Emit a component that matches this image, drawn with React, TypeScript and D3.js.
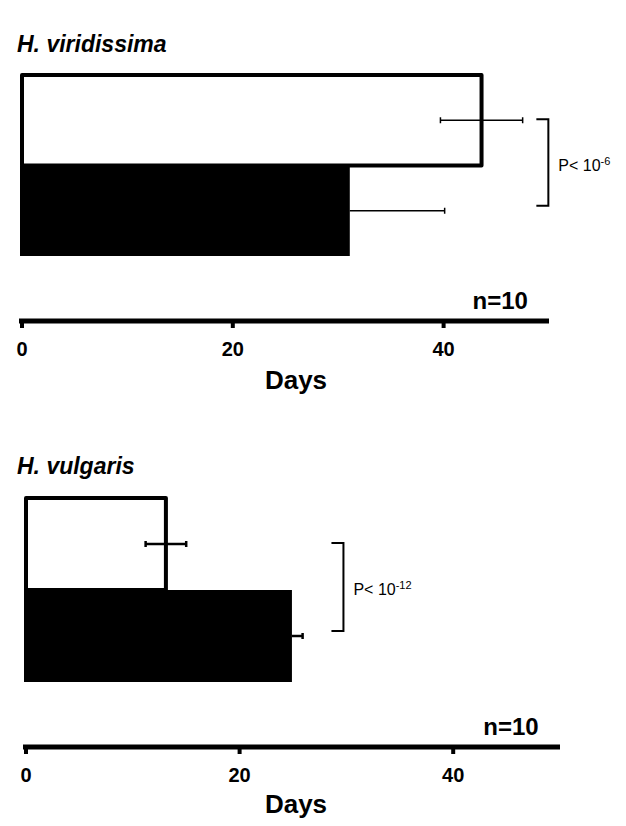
import React from 'react';
import * as d3 from 'd3';

// days to reach stage, mean and error, white = control, black = treated
const groups = ['white', 'black'];
const viridissimaMeans = [43.6, 31.1];
const viridissimaErrors = [3.9, 9.0];
const vulgarisMeans = [13.1, 24.9];
const vulgarisErrors = [1.9, 1.0];
const tickValues = [0, 20, 40];
const pValues = ['-6', '-12'];

const W = 626;
const H = 826;
const font = 'Arial, "Liberation Sans", sans-serif';
const narrow = '"Liberation Sans Narrow", "Arial Narrow", Arial, "Liberation Sans", sans-serif';

type PanelProps = {
  title: string;
  means: number[];
  errors: number[];
  pExp: string;
  x0: number;
  x1: number;
  barTop: number;
  barBottom: number;
  axisY: number;
  titleY: number;
  bracketDays: number;
  errStroke: number;
  daysY: number;
};

const Panel = (p: PanelProps) => {
  const x = d3.scaleLinear().domain([0, 50]).range([p.x0, p.x1]);
  const y = d3.scaleBand<string>().domain(groups).range([p.barTop, p.barBottom]).paddingInner(0);
  const bw = y.bandwidth();
  const yc = (g: string) => (y(g) as number) + bw / 2;

  const bx = x(p.bracketDays);
  const bTop = yc('white') - 1;
  const bBot = yc('black') - 5;

  return (
    <g>
      <text x={17} y={p.titleY} fontFamily={font} fontWeight="bold" fontStyle="italic" fontSize={23}>
        {p.title}
      </text>

      {/* black bar first, white outlined bar on top */}
      <rect x={x(0) - 2} y={y('black')} width={x(p.means[1]) - x(0) + 2} height={bw} fill="#000" />
      <rect
        x={x(0)}
        y={y('white')}
        width={x(p.means[0]) - x(0)}
        height={bw}
        fill="#fff"
        stroke="#000"
        strokeWidth={4}
        strokeLinejoin="round"
      />

      {groups.map((g, i) => {
        const lo = g === 'white' ? x(p.means[i] - p.errors[i]) : x(p.means[i]);
        const hi = x(p.means[i] + p.errors[i]);
        const cy = yc(g);
        return (
          <g key={g} stroke="#000" strokeWidth={p.errStroke}>
            <line x1={lo} x2={hi} y1={cy} y2={cy} />
            {g === 'white' && <line x1={lo} x2={lo} y1={cy - 3} y2={cy + 3} />}
            <line x1={hi} x2={hi} y1={cy - 3} y2={cy + 3} />
          </g>
        );
      })}

      <path
        d={`M${bx},${bTop}H${bx + 12}V${bBot}H${bx}`}
        fill="none"
        stroke="#000"
        strokeWidth={2}
      />
      <text x={bx + 22} y={(bTop + bBot) / 2 + 8} fontFamily={font} fontSize={16}>
        P{'< 10'}
        <tspan fontSize={11} dy={-6}>{p.pExp}</tspan>
      </text>

      <text x={x(48)} y={p.axisY - 12} textAnchor="end" fontFamily={narrow} fontWeight="bold" fontSize={24}>
        n=10
      </text>
      <line x1={x(0) - 3} x2={x(50)} y1={p.axisY} y2={p.axisY} stroke="#000" strokeWidth={5} />
      {tickValues.map(t => (
        <g key={t}>
          <line x1={x(t)} x2={x(t)} y1={p.axisY} y2={p.axisY + 7} stroke="#000" strokeWidth={4} />
          <text x={x(t)} y={p.axisY + 35} textAnchor="middle" fontFamily={narrow} fontWeight="bold" fontSize={20}>
            {t}
          </text>
        </g>
      ))}
      <text x={296} y={p.daysY} textAnchor="middle" fontFamily={narrow} fontWeight="bold" fontSize={26}>
        Days
      </text>
    </g>
  );
};

const App = () => (
  <svg width={W} height={H} style={{ display: 'block', margin: -8 }} viewBox={`0 0 ${W} ${H}`}>
    <rect width={W} height={H} fill="#fff" />
    <Panel
      title="H. viridissima"
      means={viridissimaMeans}
      errors={viridissimaErrors}
      pExp={pValues[0]}
      x0={22}
      x1={549}
      barTop={75}
      barBottom={256}
      axisY={321}
      titleY={52}
      bracketDays={48.8}
      errStroke={1.5}
      daysY={389}
    />
    <Panel
      title="H. vulgaris"
      means={vulgarisMeans}
      errors={vulgarisErrors}
      pExp={pValues[1]}
      x0={26}
      x1={560}
      barTop={498}
      barBottom={682}
      axisY={747}
      titleY={474}
      bracketDays={28.6}
      errStroke={2.5}
      daysY={813}
    />
  </svg>
);

export default App;
